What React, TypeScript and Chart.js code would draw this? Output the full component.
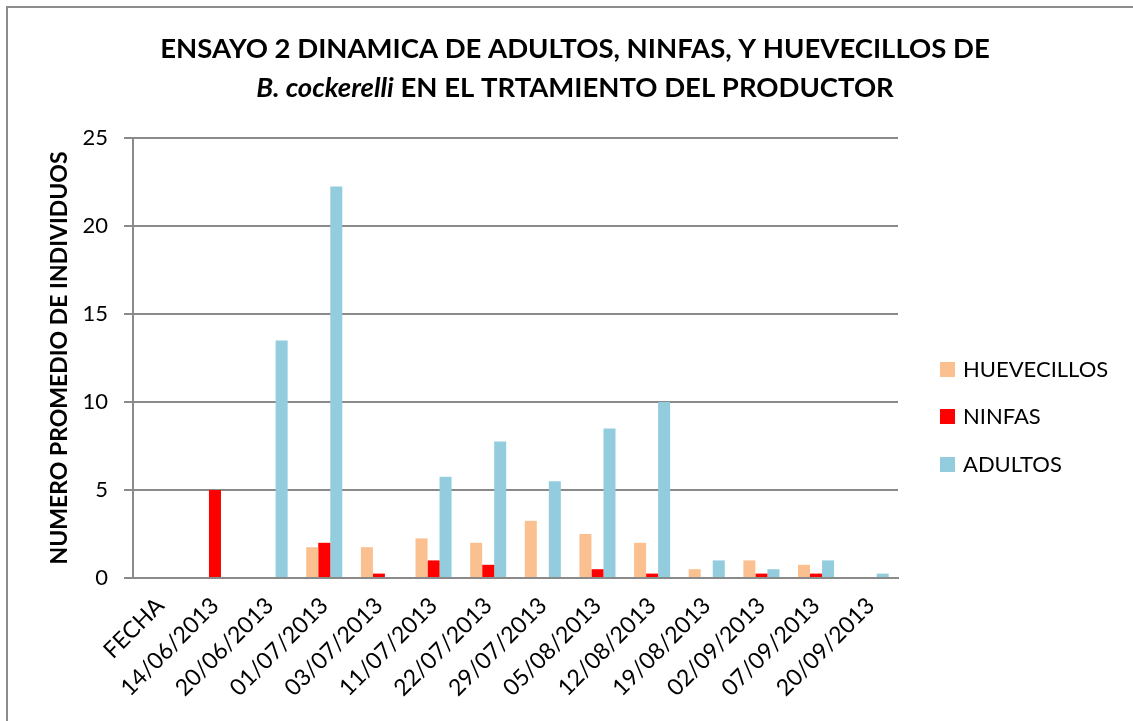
import React, { useEffect, useRef } from "react";
import { Chart, registerables } from "chart.js";

Chart.register(...registerables);

const categories = [
  "FECHA",
  "14/06/2013",
  "20/06/2013",
  "01/07/2013",
  "03/07/2013",
  "11/07/2013",
  "22/07/2013",
  "29/07/2013",
  "05/08/2013",
  "12/08/2013",
  "19/08/2013",
  "02/09/2013",
  "07/09/2013",
  "20/09/2013",
];
const huevecillos = [0, 0, 0, 1.75, 1.75, 2.25, 2, 3.25, 2.5, 2, 0.5, 1, 0.75, 0];
const ninfas = [0, 5, 0, 2, 0.25, 1, 0.75, 0, 0.5, 0.25, 0, 0.25, 0.25, 0];
const adultos = [0, 0, 13.5, 22.25, 0, 5.75, 7.75, 5.5, 8.5, 10, 1, 0.5, 1, 0.25];
const yMin = 0;
const yMax = 25;
const yStep = 5;

const seriesNames = ["HUEVECILLOS", "NINFAS", "ADULTOS"];
const seriesColors = ["#FAC090", "#FF0000", "#93CDDD"];

const titleLine1 = "ENSAYO 2 DINAMICA DE ADULTOS, NINFAS, Y HUEVECILLOS DE";
const titleItalic = "B. cockerelli";
const titleRest = " EN EL TRTAMIENTO DEL PRODUCTOR";
const yTitle = "NUMERO PROMEDIO DE INDIVIDUOS";

const FONT = "Lato, 'Open Sans', sans-serif";

const CANVAS_W = 1140;
const CANVAS_H = 730;
const TITLE_SIZE = 27.5;

const titlePlugin = {
  id: "customTitle",
  afterDraw(chart: any) {
    const ctx = chart.ctx;
    ctx.save();
    ctx.fillStyle = "#000";
    ctx.textBaseline = "alphabetic";
    const cx = 567;
    const bold = `bold ${TITLE_SIZE}px ${FONT}`;
    const italic = `italic bold ${TITLE_SIZE}px ${FONT}`;
    ctx.font = bold;
    const w1 = ctx.measureText(titleLine1).width;
    ctx.fillText(titleLine1, cx - w1 / 2, 50);
    ctx.font = italic;
    const wi = ctx.measureText(titleItalic).width;
    ctx.font = bold;
    const wr = ctx.measureText(titleRest).width;
    const start = cx - (wi + wr) / 2;
    ctx.font = italic;
    ctx.fillText(titleItalic, start, 89);
    ctx.font = bold;
    ctx.fillText(titleRest, start + wi, 89);
    ctx.restore();
  },
};

const legendPlugin = {
  id: "customLegend",
  afterDraw(chart: any) {
    const ctx = chart.ctx;
    ctx.save();
    ctx.font = `22px ${FONT}`;
    ctx.textBaseline = "middle";
    const ys = [361, 408, 456];
    seriesNames.forEach((name, i) => {
      ctx.fillStyle = seriesColors[i];
      ctx.fillRect(932, ys[i] - 7, 15, 15);
      ctx.fillStyle = "#000";
      ctx.fillText(name, 955, ys[i] + 1);
    });
    ctx.restore();
  },
};

export default function App() {
  const ref = useRef<HTMLCanvasElement | null>(null);

  useEffect(() => {
    if (!ref.current) return;
    const chart = new Chart(ref.current, {
      type: "bar",
      data: {
        labels: categories,
        datasets: [
          { label: seriesNames[0], data: huevecillos, backgroundColor: seriesColors[0] },
          { label: seriesNames[1], data: ninfas, backgroundColor: seriesColors[1] },
          { label: seriesNames[2], data: adultos, backgroundColor: seriesColors[2] },
        ],
      },
      options: {
        responsive: false,
        animation: false,
        devicePixelRatio: 1,
        layout: { padding: { top: 130, right: CANVAS_W - 890, left: 0, bottom: 0 } },
        datasets: {
          bar: { categoryPercentage: 0.66, barPercentage: 1.0 },
        },
        plugins: {
          legend: { display: false },
          title: { display: false },
          tooltip: { enabled: false },
        },
        scales: {
          x: {
            grid: { display: false, drawTicks: false },
            border: { display: true, color: "#8a8a8a", width: 2 },
            ticks: {
              color: "#000",
              font: { family: FONT, size: 23 },
              minRotation: 45,
              maxRotation: 45,
              autoSkip: false,
              padding: 14,
            },
            afterFit(scale: any) {
              scale.height = CANVAS_H - 570;
            },
          },
          y: {
            min: yMin,
            max: yMax,
            ticks: {
              stepSize: yStep,
              color: "#000",
              font: { family: FONT, size: 22 },
              padding: 16,
            },
            grid: { color: "#8a8a8a", lineWidth: 2, tickLength: 9 },
            border: { display: true, color: "#8a8a8a", width: 2 },
            title: {
              display: true,
              text: yTitle,
              color: "#000",
              font: { family: FONT, size: 23, weight: "bold" },
              padding: { top: 38, bottom: 0 },
            },
            afterFit(scale: any) {
              scale.width = 125;
            },
          },
        },
      },
      plugins: [titlePlugin, legendPlugin],
    } as any);
    return () => chart.destroy();
  }, []);

  return (
    <div
      style={{
        position: "fixed",
        left: 6,
        top: 6,
        width: CANVAS_W,
        height: CANVAS_H,
        border: "2px solid #8c8c8c",
        background: "#fff",
        overflow: "hidden",
      }}
    >
      <canvas ref={ref} width={CANVAS_W} height={CANVAS_H} style={{ display: "block" }} />
    </div>
  );
}
